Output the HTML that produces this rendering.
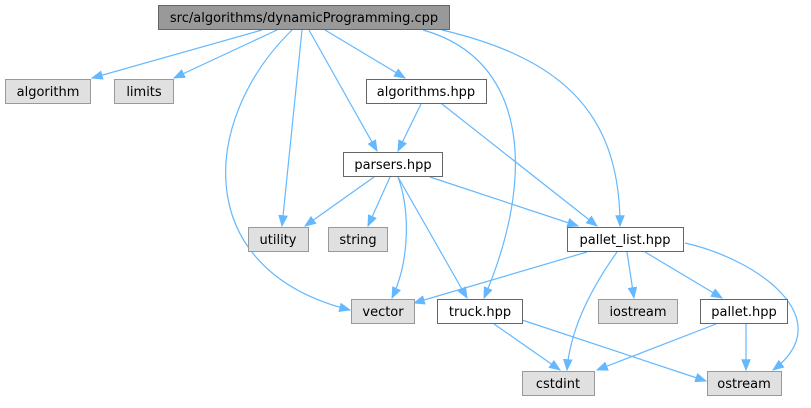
<!DOCTYPE html>
<html><head><meta charset="utf-8"><style>
body{margin:0;background:#fff}
text{font-family:"DejaVu Sans","Liberation Sans",sans-serif;font-size:13px;text-anchor:middle}
.e{fill:none;stroke:#63b8ff;stroke-width:1.2}
</style></head><body>
<svg width="811" height="403" viewBox="0 0 811 403" xmlns="http://www.w3.org/2000/svg">
<defs><marker id="m" viewBox="0 0 10 10" refX="9" refY="5" markerWidth="12" markerHeight="12" markerUnits="userSpaceOnUse" orient="auto"><path d="M0,1 L10,5 L0,9z" fill="#63b8ff"/></marker></defs>
<g class="e" marker-end="url(#m)">
<path d="M262,30 L92,78"/>
<path d="M277,30 L174,78"/>
<path d="M325,30 L405,78"/>
<path d="M309,30 L377,151"/>
<path d="M421,104 L398,151"/>
<path d="M302,30 L282,226"/>
<path d="M292,30 C200,120 190,270 350,310"/>
<path d="M423,30 C530,60 535,180 484,298"/>
<path d="M442,30 C570,60 620,120 620,226"/>
<path d="M442,104 L597,226"/>
<path d="M374,177 L305,226"/>
<path d="M390,177 L368,226"/>
<path d="M398,177 C410,210 410,260 392,298"/>
<path d="M398,177 L467,298"/>
<path d="M430,177 L578,226"/>
<path d="M587,252 L414,303"/>
<path d="M617,252 C590,290 570,330 567,370"/>
<path d="M627,252 L634,298"/>
<path d="M645,252 L722,298"/>
<path d="M685,243 C760,260 840,320 773,370"/>
<path d="M494,324 L560,370"/>
<path d="M522,320 L706,381"/>
<path d="M716,324 L597,370"/>
<path d="M746,324 L746,370"/>
</g>
<g stroke-width="1">
<rect x="158.5" y="5.5" width="291" height="24" fill="#999" stroke="#666"/>
<rect x="5.5" y="79.5" width="85" height="24" fill="#e0e0e0" stroke="#999"/>
<rect x="114.5" y="79.5" width="59" height="24" fill="#e0e0e0" stroke="#999"/>
<rect x="366.5" y="79.5" width="120" height="24" fill="#fff" stroke="#666"/>
<rect x="343.5" y="152.5" width="99" height="24" fill="#fff" stroke="#666"/>
<rect x="248.5" y="227.5" width="60" height="24" fill="#e0e0e0" stroke="#999"/>
<rect x="328.5" y="227.5" width="59" height="24" fill="#e0e0e0" stroke="#999"/>
<rect x="567.5" y="227.5" width="116" height="24" fill="#fff" stroke="#666"/>
<rect x="351.5" y="299.5" width="63" height="24" fill="#e0e0e0" stroke="#999"/>
<rect x="437.5" y="299.5" width="85" height="24" fill="#fff" stroke="#666"/>
<rect x="598.5" y="299.5" width="79" height="24" fill="#e0e0e0" stroke="#999"/>
<rect x="700.5" y="299.5" width="87" height="24" fill="#fff" stroke="#666"/>
<rect x="522.5" y="371.5" width="72" height="24" fill="#e0e0e0" stroke="#999"/>
<rect x="707.5" y="371.5" width="74" height="24" fill="#e0e0e0" stroke="#999"/>
</g>
<text x="304" y="22">src/algorithms/dynamicProgramming.cpp</text>
<text x="48" y="96">algorithm</text>
<text x="144" y="96">limits</text>
<text x="426" y="96">algorithms.hpp</text>
<text x="393" y="169">parsers.hpp</text>
<text x="278" y="244">utility</text>
<text x="358" y="244">string</text>
<text x="625" y="244">pallet_list.hpp</text>
<text x="383" y="316">vector</text>
<text x="480" y="316">truck.hpp</text>
<text x="638" y="316">iostream</text>
<text x="744" y="316">pallet.hpp</text>
<text x="558" y="388">cstdint</text>
<text x="744" y="388">ostream</text>
</svg>
</body></html>
